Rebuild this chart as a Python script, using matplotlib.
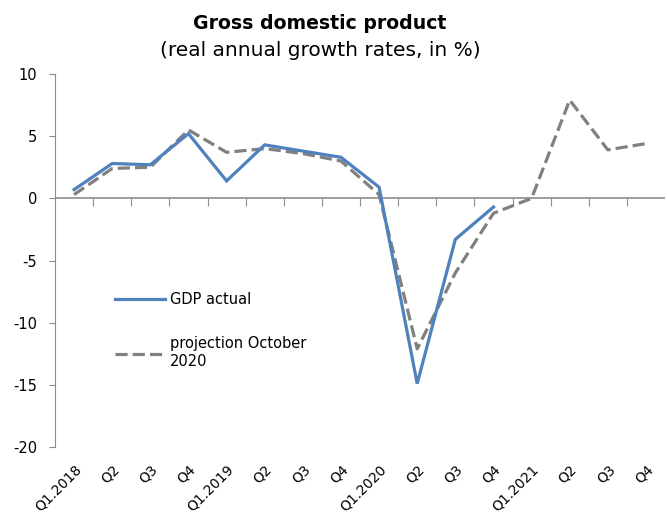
import matplotlib
matplotlib.use("Agg")
import matplotlib.pyplot as plt

# quarters Q1.2018 .. Q4.2021
quarters = ["Q1.2018", "Q2", "Q3", "Q4",
            "Q1.2019", "Q2", "Q3", "Q4",
            "Q1.2020", "Q2", "Q3", "Q4",
            "Q1.2021", "Q2", "Q3", "Q4"]
gdp_actual = [0.7, 2.8, 2.7, 5.2, 1.4, 4.3, 3.8, 3.3, 0.9, -14.9, -3.3, -0.7]
projection = [0.3, 2.4, 2.5, 5.5, 3.7, 4.0, 3.6, 3.0, 0.3, -12.1, -6.0, -1.2,
              0.0, 7.9, 3.9, 4.4]

plt.rcParams["font.family"] = ["DejaVu Sans"]
plt.rcParams["font.size"] = 10.5
plt.rcParams["axes.unicode_minus"] = False

fig = plt.figure(figsize=(6.67, 5.21), dpi=100)
ax = fig.add_axes([0.0825, 0.142, 0.9145, 0.716])

x_act = list(range(len(gdp_actual)))
x_proj = list(range(len(projection)))

ax.plot(x_act, gdp_actual, color="#4f81bd", lw=2.3, label="GDP actual",
        solid_joinstyle="miter", zorder=3)
ax.plot(x_proj, projection, color="#808080", lw=2.3, dashes=(3.8, 1.6),
        label="projection October\n2020", zorder=2)

ax.set_xlim(-0.5, len(quarters) - 0.5)
ax.set_ylim(-20, 10)
ax.set_yticks(range(-20, 11, 5))

for s in ["top", "right", "bottom"]:
    ax.spines[s].set_visible(False)
ax.spines["left"].set_color("#8c8c8c")
ax.tick_params(axis="y", direction="out", length=4, color="#8c8c8c", pad=9)

# category labels at the bottom, no ticks
ax.set_xticks(x_proj)
ax.set_xticklabels(quarters, rotation=45, ha="right", rotation_mode="anchor",
                   fontsize=10)
ax.tick_params(axis="x", length=0, pad=11)

# zero line with tick marks between categories
ax.axhline(0, color="#8c8c8c", lw=1.2, zorder=1)
sec = ax.secondary_xaxis(20 / 30)
sec.set_xticks([i - 0.5 for i in range(1, len(quarters))])
sec.tick_params(axis="x", direction="out", length=6, color="#8c8c8c",
                labelbottom=False, labeltop=False, bottom=True, top=False)
sec.spines["bottom"].set_visible(False)
sec.spines["top"].set_visible(False)

ax.legend(loc="upper left", bbox_to_anchor=(0.077, 0.45), frameon=False,
          handlelength=3.4, handletextpad=0.35, labelspacing=2.0)

fig.text(0.48, 0.955, "Gross domestic product", ha="center", va="center",
         fontsize=13.6, fontweight="bold")
fig.text(0.48, 0.903, "(real annual growth rates, in %)", ha="center",
         va="center", fontsize=14.5)

fig.savefig("out.png", dpi=100)
